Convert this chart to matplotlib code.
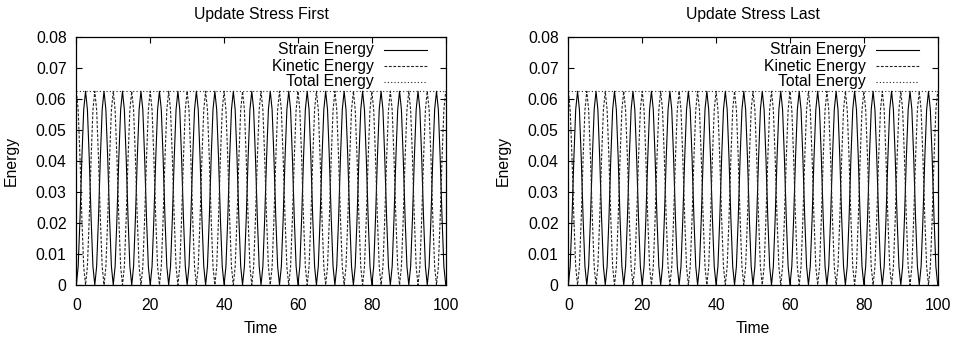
import matplotlib
matplotlib.use('Agg')
import matplotlib.pyplot as plt

plt.rcParams['font.family'] = ['Liberation Sans', 'DejaVu Sans']
plt.rcParams['font.size'] = 11.3

strain_cycle = [0.0, 0.0060, 0.0216, 0.0409, 0.0566, 0.0625, 0.0566, 0.0409, 0.0216, 0.0060]
kinetic_cycle = [0.0625, 0.0565, 0.0409, 0.0216, 0.0059, 0.0, 0.0059, 0.0216, 0.0409, 0.0565]
n_cycles = 20
time_step = 0.5

strain_energy = strain_cycle * n_cycles + [0.0]
kinetic_energy = kinetic_cycle * n_cycles + [0.0625]
time = [i * time_step for i in range(len(strain_energy))]
total_time = [0, 100]
total_energy = [0.0625, 0.0625]

titles = ['Update Stress First', 'Update Stress Last']
x_ticks = [0, 20, 40, 60, 80, 100]
y_ticks = [0, 0.01, 0.02, 0.03, 0.04, 0.05, 0.06, 0.07, 0.08]
y_tick_labels = ['0', '0.01', '0.02', '0.03', '0.04', '0.05', '0.06', '0.07', '0.08']
legend_names = ['Strain Energy', 'Kinetic Energy', 'Total Energy']

solid = dict(color='black', lw=0.8, linestyle='-')
dashed = dict(color='#222222', lw=0.8, linestyle=(0, (2.5, 1.5)))
dotted = dict(color='#222222', lw=0.8, linestyle=(0, (1, 2)))
styles = [solid, dashed, dotted]

fig = plt.figure(figsize=(9.6, 3.38), dpi=100)
lefts = [0.0795, 0.592]
for left, title in zip(lefts, titles):
    ax = fig.add_axes([left, 0.1568, 0.3848, 0.7337])
    ax.plot(time, strain_energy, **solid)
    ax.plot(time, kinetic_energy, **dashed)
    ax.plot(total_time, total_energy, **dotted)
    ax.set_xlim(0, 100)
    ax.set_ylim(0, 0.08)
    ax.set_xticks(x_ticks)
    ax.set_xticklabels([str(v) for v in x_ticks])
    ax.set_yticks(y_ticks)
    ax.set_yticklabels(y_tick_labels)
    ax.tick_params(direction='in', length=4, width=0.8, top=True, right=True, pad=7)
    ax.tick_params(axis='x', pad=9)
    for sp in ax.spines.values():
        sp.set_linewidth(0.9)
    ax.set_title(title, pad=13, fontsize=11.3)
    ax.set_xlabel('Time', labelpad=6)
    ax.set_ylabel('Energy', labelpad=12)

    # gnuplot-style key: right-aligned text, sample line after it
    rows = [0.948, 0.883, 0.819]
    for name, y, st in zip(legend_names, rows, styles):
        ax.text(0.806, y, name, transform=ax.transAxes, ha='right', va='center')
        ax.plot([0.834, 0.9486], [y, y], transform=ax.transAxes, **st)

fig.savefig('out.png', dpi=100)
